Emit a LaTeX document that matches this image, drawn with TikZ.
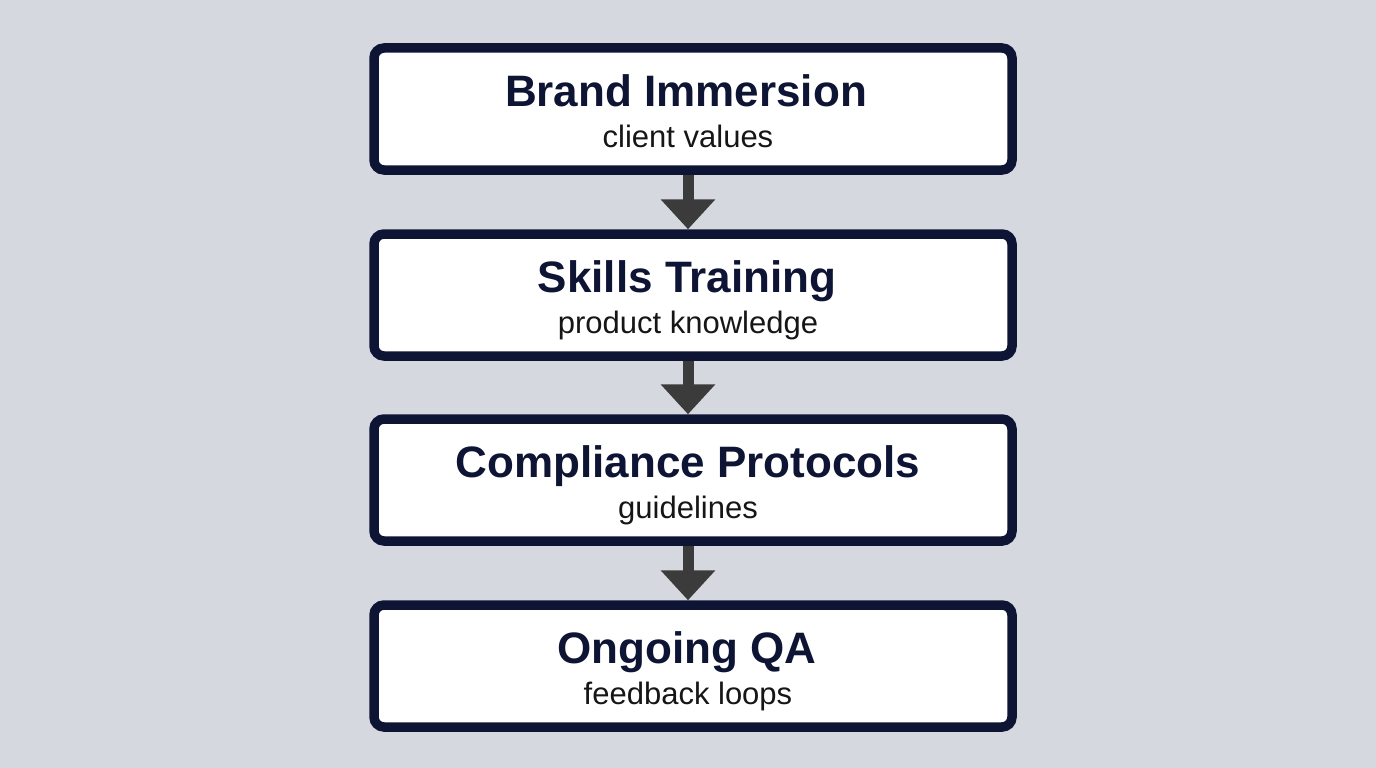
\documentclass[tikz,border=0pt]{standalone}
\usepackage{fontspec}
\setmainfont{Liberation Sans}
\usetikzlibrary{arrows.meta}
\definecolor{bgc}{HTML}{D5D8DE}
\definecolor{navy}{HTML}{0E1433}
\definecolor{arrowc}{HTML}{3B3B3B}
\definecolor{subc}{HTML}{161616}
\tikzset{
  stepbox/.style={draw=navy, line width=9.5pt, fill=white, rounded corners=10pt,
    minimum width=638pt, minimum height=122pt, inner sep=0pt},
  titletext/.style={anchor=base, font=\fontsize{44}{48}\selectfont\bfseries, text=navy, inner sep=0pt},
  subtext/.style={anchor=base, font=\fontsize{31}{34}\selectfont, text=subc, inner sep=0pt},
  flowarrow/.style={draw=arrowc, line width=11pt, -{Triangle[width=53pt,length=30pt]}, arrowc}
}
\begin{document}
\begin{tikzpicture}[x=1pt,y=-1pt]
\fill[bgc] (0,0) rectangle (1376,768);
\useasboundingbox (0,0) rectangle (1376,768);
% boxes
\node[stepbox] (b1) at (693,109) {};
\node[stepbox] (b2) at (693,295) {};
\node[stepbox] (b3) at (693,480) {};
\node[stepbox] (b4) at (693,666) {};
% arrows
\draw[flowarrow] ([xshift=-5pt]b1.south) -- ([xshift=-5pt]b2.north);
\draw[flowarrow] ([xshift=-5pt]b2.south) -- ([xshift=-5pt]b3.north);
\draw[flowarrow] ([xshift=-5pt]b3.south) -- ([xshift=-5pt]b4.north);
% texts
\node[titletext] (t1) at (686,106.7) {Brand Immersion};
\node[subtext] (s1) at (688,147) {client values};
\node[titletext] (t2) at (687,292.7) {Skills Training};
\node[subtext] (s2) at (688,333) {product knowledge};
\node[titletext] (t3) at (688,477.7) {Compliance Protocols};
\node[subtext] (s3) at (688,518) {guidelines};
\node[titletext] (t4) at (687,663.7) {Ongoing QA};
\node[subtext] (s4) at (688,704) {feedback loops};
\end{tikzpicture}
\end{document}
